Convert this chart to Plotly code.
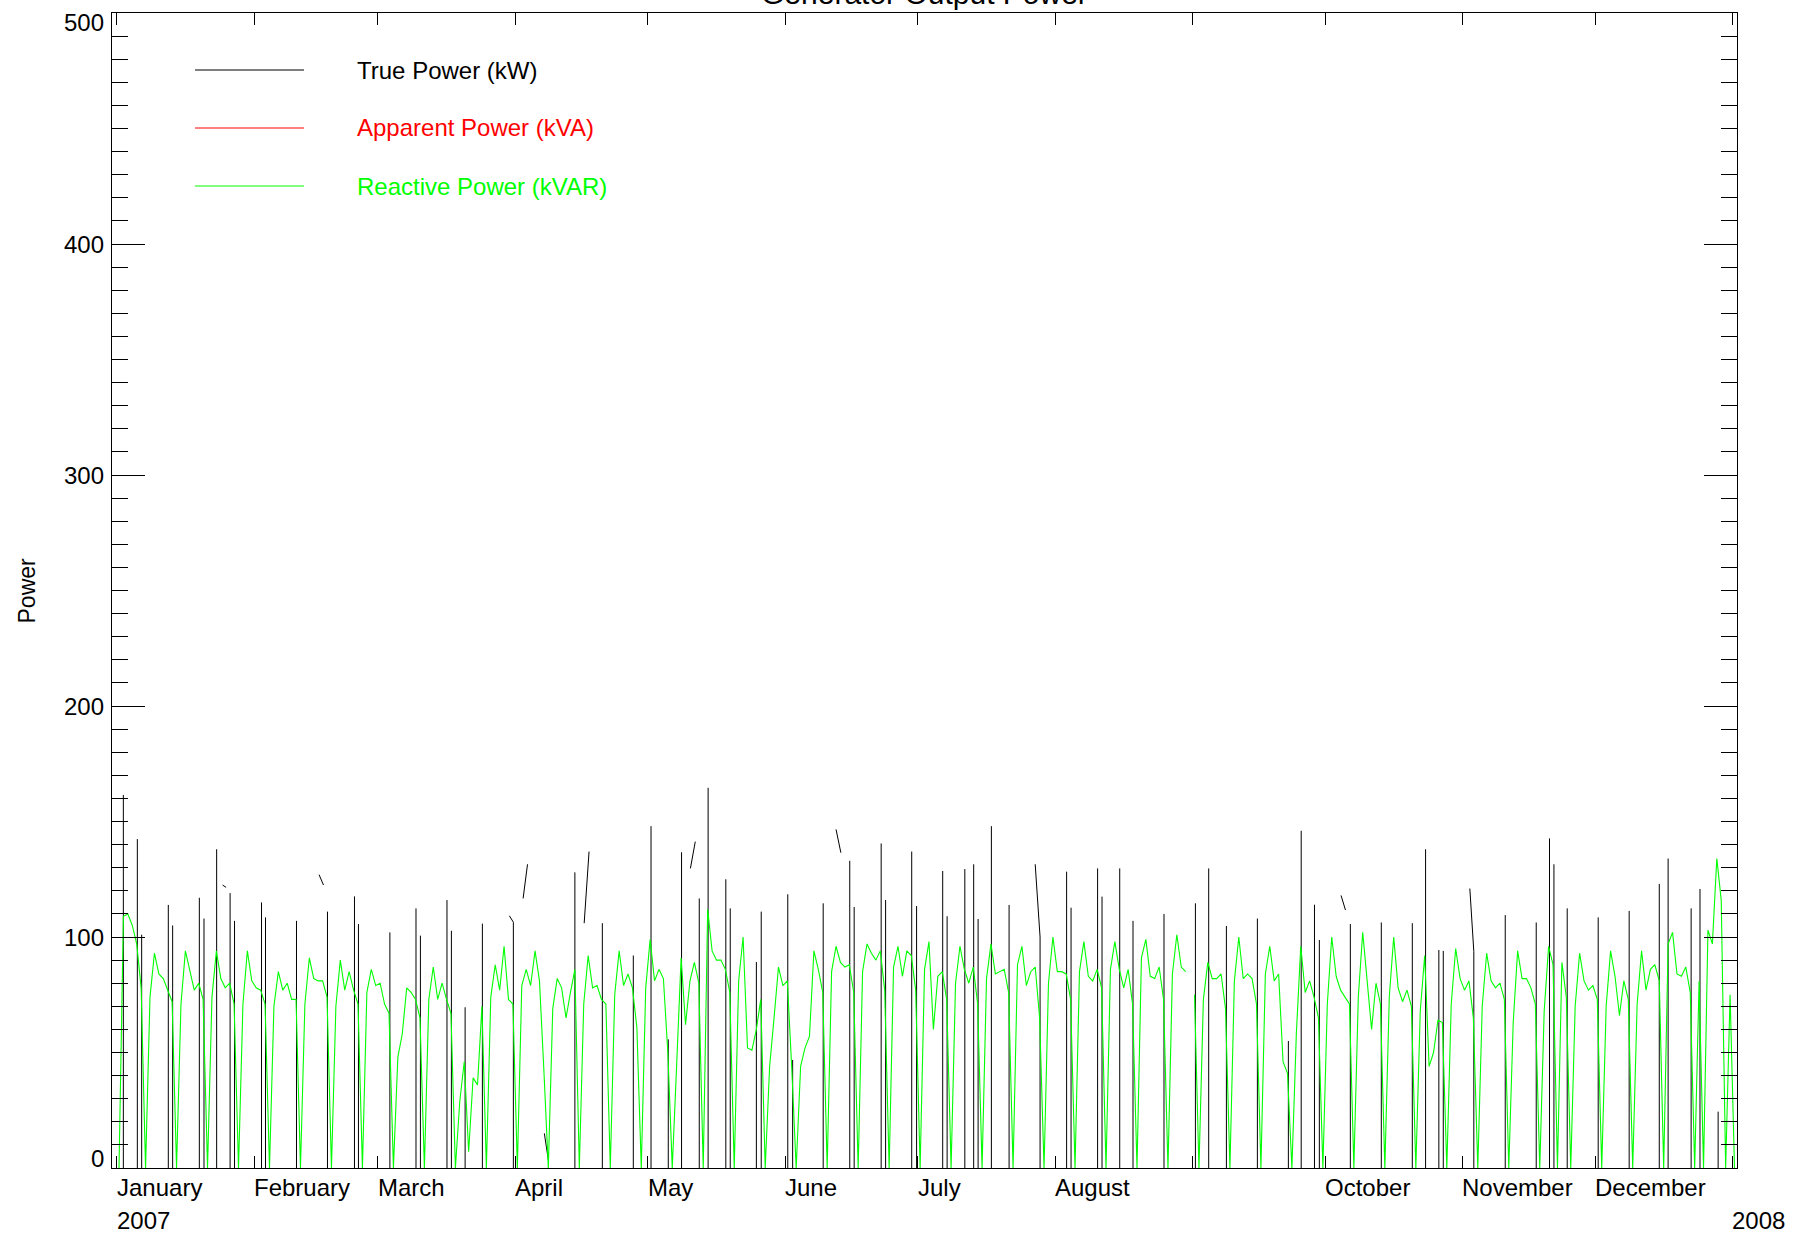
import pandas as pd
import plotly.graph_objects as go

# ---------------- data ----------------
# Reactive power (kVAR), one value per day starting 2007-01-01 (None = missing)
reactive_power = [
    0, 109, 110, 105, 97, 78, 0,
    74, 93, 84, 82, 77, 72, 0,
    71, 94, 86, 77, 80, 73, 0,
    74, 94, 82, 78, 80, 71, 0,
    71, 94, 81, 78, 77, 71, 0,
    70, 85, 77, 80, 73, 73, 0,
    71, 91, 82, 81, 81, 74, 0,
    70, 90, 77, 85, 77, 71, 0,
    76, 86, 79, 80, 71, 67, 0,
    48, 58, 78, 76, 73, 65, 0,
    73, 87, 73, 80, 73, 67, 0,
    29, 46, 7, 39, 36, 70, 0,
    74, 88, 77, 96, 73, 71, 0,
    79, 86, 79, 94, 81, 42, 0,
    69, 82, 78, 65, 76, 86, 0,
    71, 92, 78, 79, 73, 71, 0,
    75, 94, 79, 84, 78, 61, 0,
    78, 99, 81, 86, 82, 50, 0,
    45, 91, 62, 81, 89, 80, 0,
    112, 94, 90, 90, 86, 76, 0,
    81, 100, 52, 51, 60, 73, 0,
    44, 65, 87, 79, 81, 43, 0,
    44, 52, 57, 94, 86, 76, 0,
    85, 96, 89, 87, 88, 76, 0,
    85, 97, 93, 90, 94, 77, 0,
    87, 96, 83, 94, 92, 77, 0,
    86, 98, 60, 83, 85, 73, 0,
    80, 96, 86, 80, 87, 71, 0,
    82, 97, 84, 85, 86, 76, 0,
    88, 96, 79, 85, 87, 65, 0,
    80, 100, 85, 85, 84, 73, 0,
    85, 98, 83, 81, 86, 78, 0,
    86, 98, 86, 78, 86, 71, 0,
    91, 99, 83, 82, 87, 73, 0,
    84, 101, 87, 85, None, 75, 0,
    73, 89, 82, 82, 84, 69, 0,
    81, 100, 82, 84, 82, 71, 0,
    84, 96, 81, 84, 46, 41, 0,
    58, 96, 76, 81, 74, 65, 0,
    71, 100, 83, 77, 74, 71, 0,
    74, 102, 81, 60, 80, 71, 0,
    74, 100, 78, 72, 77, 70, 0,
    68, 92, 44, 50, 64, 63, 0,
    71, 95, 82, 77, 81, 65, 0,
    70, 93, 81, 78, 80, 73, 0,
    63, 94, 82, 82, 78, 71, 0,
    68, 96, 88, 0, 89, 74, 0,
    70, 93, 81, 77, 79, 73, 0,
    70, 94, 83, 66, 81, 73, 0,
    71, 94, 77, 86, 88, 81, 0,
    97, 102, 84, 83, 87, 76, 0,
    81, 0, 103, 97, 134, 116, 0,
    75, 0,
]

# Apparent power (kVA): nothing of it is visible in the chart
apparent_power = []

# True power (kW): spikes (day offset from 2007-01-01 noon, top value)
true_spike_day = [
    0.98, 4.14, 5.12, 11.14, 12.12, 18.15, 19.2, 22.06, 25.1, 26.1,
    32.2, 33.1, 40.1, 47.1, 53.2, 54.1, 61.2, 67.1, 68.1, 74.1,
    75.1, 78.2, 82.1, 89.1, 103.0, 109.2, 116.2, 120.2, 124.1, 127.1,
    131.1, 133.1, 137.1, 138.1, 144.0, 145.1, 151.1, 152.2, 159.1, 165.1,
    166.1, 172.2, 173.2, 179.1, 180.2, 186.1, 187.1, 191.1, 193.1, 194.1,
    197.1, 201.1, 208.1, 214.1, 215.1, 221.1, 222.1, 226.1, 229.1, 236.1,
    243.2, 246.2, 250.2, 257.2, 264.2, 267.1, 270.1, 271.2, 278.2, 285.2,
    292.2, 295.2, 298.2, 299.2, 306.1, 313.2, 320.2, 323.2, 324.2, 327.2,
    334.2, 341.2, 348.0, 350.0, 355.2, 357.2, 361.3,
]
true_spike_top = [
    161.5, 142.4, 101, 113.9, 105, 117, 108, 138, 119, 107,
    115, 108.5, 107, 111, 117.6, 105.6, 102, 112.4, 100.6, 116,
    102.7, 69.6, 105.8, 106.4, 128, 106, 92, 148, 55.7, 136.7,
    116.7, 164.6, 125, 112.4, 89.2, 111, 118.5, 46.8, 114.6, 133,
    113, 140.5, 116, 137, 113.4, 128.6, 109, 129.4, 131.5, 107.8,
    148, 113.9, 100, 128.3, 112.7, 129.7, 117.5, 129.7, 107, 110,
    114.6, 129.7, 104.8, 108, 55, 146, 114, 98.7, 105.6, 106.3,
    106, 138, 94.4, 94, 93.7, 109.5, 106.3, 142.7, 131.5, 112.4,
    108.5, 111.3, 123, 134, 112.4, 120.8, 24.4,
]
# True power (kW): short isolated pieces (start day, start value, end day, end value)
true_seg_day0 = [23.4, 45.2, 88.2, 91.3, 96.1, 105.1, 129.1, 162.0, 207.0, 276.1, 305.2]
true_seg_val0 = [122.5, 127, 109.2, 116.7, 15, 106, 129.7, 146.6, 131.5, 118, 121]
true_seg_day1 = [24.2, 46.2, 89.1, 92.3, 97.0, 106.2, 130.2, 163.1, 208.1, 277.1, 306.1]
true_seg_val1 = [121.5, 122.5, 106.4, 131.5, 3.5, 137, 141.3, 136.5, 100, 111.7, 93.7]

month_starts = ["2007-01-01", "2007-02-01", "2007-03-01", "2007-04-01", "2007-05-01",
                "2007-06-01", "2007-07-01", "2007-08-01", "2007-09-01", "2007-10-01",
                "2007-11-01", "2007-12-01", "2008-01-01"]
month_labels = ["January", "February", "March", "April", "May", "June", "July",
                "August", "", "October", "November", "December", ""]
year_labels = ["2007", "", "", "", "", "", "", "", "", "", "", "", "2008"]

y_ticks = [0, 100, 200, 300, 400, 500]
y_tick_text = ["0", "100", "200", "300", "400", "500"]
legend_names = ["True Power (kW)", "Apparent Power (kVA)", "Reactive Power (kVAR)"]
legend_colors = ["#000000", "#FF0000", "#00FF00"]

# ---------------- build ----------------
base = pd.Timestamp("2007-01-01 12:00")
green_x = [base + pd.Timedelta(days=i) for i in range(len(reactive_power))]

bx, by = [], []
for d, top in zip(true_spike_day, true_spike_top):
    t = base + pd.Timedelta(days=d)
    bx += [t, t, None]
    by += [0, top, None]
for d0, v0, d1, v1 in zip(true_seg_day0, true_seg_val0, true_seg_day1, true_seg_val1):
    bx += [base + pd.Timedelta(days=d0), base + pd.Timedelta(days=d1), None]
    by += [v0, v1, None]

W, H = 1811, 1238
ML, MR, MT, MB = 112, 74, 13, 70
PW, PH = W - ML - MR, H - MT - MB
FONT = "Liberation Sans, Arial, sans-serif"
FS = 24


def px(x):
    return (x - ML) / PW


def py(y):
    return (H - MB - y) / PH


fig = go.Figure()
fig.add_trace(go.Scatter(x=bx, y=by, mode="lines", line=dict(color="#000000", width=1),
                         connectgaps=False, showlegend=False, hoverinfo="skip"))
fig.add_trace(go.Scatter(x=green_x[:len(apparent_power)], y=apparent_power, mode="lines",
                         line=dict(color="#FF0000", width=1), showlegend=False))
fig.add_trace(go.Scatter(x=green_x, y=reactive_power, mode="lines",
                         line=dict(color="#00FF00", width=1.1), connectgaps=False,
                         showlegend=False))

annotations = []
for d, lab in zip(month_starts, month_labels):
    if lab:
        annotations.append(dict(x=d, xref="x", y=0, yref="paper", text=lab, showarrow=False,
                                xanchor="left", yanchor="middle", yshift=-19, xshift=-2,
                                font=dict(family=FONT, size=FS, color="#000000")))
for d, lab in zip(month_starts, year_labels):
    if lab:
        annotations.append(dict(x=d, xref="x", y=0, yref="paper", text=lab, showarrow=False,
                                xanchor="left", yanchor="middle", yshift=-52, xshift=-2,
                                font=dict(family=FONT, size=FS, color="#000000")))
# y tick labels (end labels nudged inward, as in the original)
y_label_shift = [10, 0, 0, 0, 0, -9]
for v, t, s in zip(y_ticks, y_tick_text, y_label_shift):
    annotations.append(dict(x=0, xref="paper", y=v, yref="y", text=t, showarrow=False,
                            xanchor="right", yanchor="middle", xshift=-6, yshift=s,
                            font=dict(family=FONT, size=FS, color="#000000")))
annotations.append(dict(x=px(26), xref="paper", y=0.5, yref="paper", text="Power",
                        textangle=-90, showarrow=False, xanchor="center", yanchor="middle",
                        font=dict(family=FONT, size=FS - 1, color="#000000")))
annotations.append(dict(x=0.5, xref="paper", y=1, yref="paper", text="Generator Output Power",
                        showarrow=False, xanchor="center", yanchor="bottom", yshift=1,
                        font=dict(family=FONT, size=30, color="#000000")))

shapes = []
for k, (name, col) in enumerate(zip(legend_names, legend_colors)):
    yy = py(70 + 58 * k)
    shapes.append(dict(type="line", xref="paper", yref="paper", x0=px(195), x1=px(304),
                       y0=yy, y1=yy, line=dict(color=col, width=1)))
    annotations.append(dict(x=px(355), xref="paper", y=yy, yref="paper", text=name,
                            showarrow=False, xanchor="left", yanchor="middle",
                            font=dict(family=FONT, size=FS, color=col)))

fig.update_layout(
    width=W, height=H,
    margin=dict(l=ML, r=MR, t=MT, b=MB, pad=0),
    paper_bgcolor="white", plot_bgcolor="white",
    showlegend=False,
    annotations=annotations, shapes=shapes,
    font=dict(family=FONT, size=FS, color="#000000"),
)
fig.update_xaxes(type="date", range=["2006-12-30 22:00", "2008-01-02 01:30"],
                 tickvals=month_starts, showticklabels=False, ticks="inside", ticklen=12,
                 tickcolor="#000000", showline=True, linecolor="#000000", linewidth=1,
                 mirror="ticks", showgrid=False, zeroline=False)
fig.update_yaxes(range=[0, 500.05], tickvals=y_ticks, showticklabels=False,
                 ticks="inside", ticklen=33,
                 tickcolor="#000000", showline=True, linecolor="#000000", linewidth=1,
                 mirror="ticks", showgrid=False, zeroline=False,
                 minor=dict(ticks="inside", ticklen=16, dtick=10, tickcolor="#000000",
                            showgrid=False))

fig.write_html("out.html", config={"displayModeBar": False},
               post_script="document.body.style.margin='0';document.body.style.overflow='hidden';")
